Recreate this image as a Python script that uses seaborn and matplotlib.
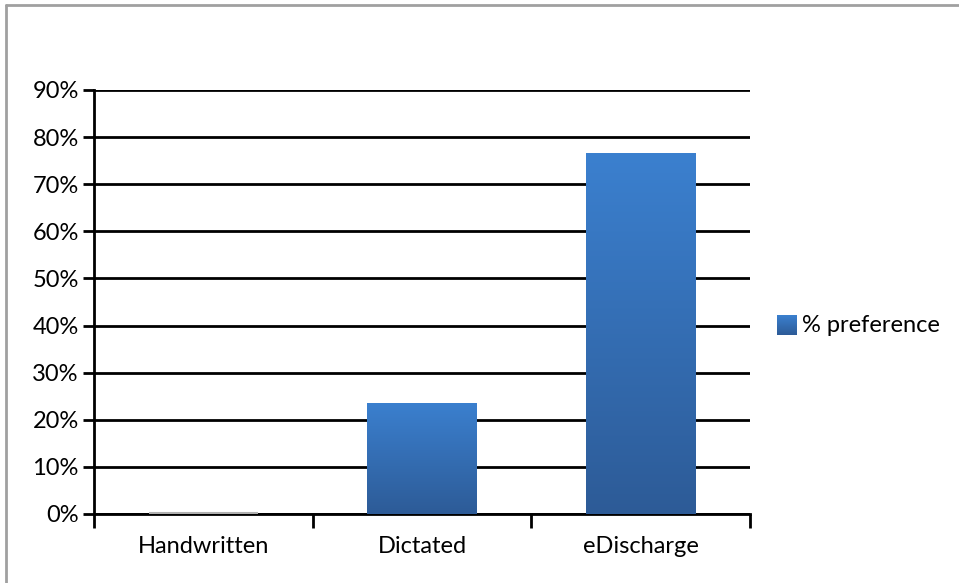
import numpy as np
import pandas as pd
import matplotlib
matplotlib.use("Agg")
import matplotlib.pyplot as plt
import seaborn as sns
from matplotlib.colors import LinearSegmentedColormap
from matplotlib.lines import Line2D

categories = ["Handwritten", "Dictated", "eDischarge"]
values = [0.0, 23.6, 76.6]
series_name = "% preference"
yticks = [0, 10, 20, 30, 40, 50, 60, 70, 80, 90]

sns.set_theme(style="white")
plt.rcParams["font.family"] = ["Lato", "DejaVu Sans"]

W, H = 959, 583
FS = 17
fig = plt.figure(figsize=(W / 100, H / 100), dpi=100)
ax = fig.add_axes([94 / W, 1 - 514 / H, (750 - 94) / W, (514 - 90) / H])

df = pd.DataFrame({"category": categories, "value": values})
sns.barplot(data=df, x="category", y="value", ax=ax, width=0.5,
            color="#3a7fcd", saturation=1)

ax.set_ylim(0, 90)
ax.set_xlim(-0.5, 2.5)
ax.set_yticks(yticks)
ax.set_yticklabels([f"{t}%" for t in yticks])
ax.set_xlabel("")
ax.set_ylabel("")
ax.yaxis.grid(True, color="black", linewidth=2)
ax.set_axisbelow(True)
for s in ["top", "right"]:
    ax.spines[s].set_visible(False)
for s in ["left", "bottom"]:
    ax.spines[s].set_color("black")
    ax.spines[s].set_linewidth(2)

ax.tick_params(axis="y", which="major", left=True, length=8, width=2,
               color="black", labelsize=FS, pad=3, labelcolor="black")
ax.set_xticks([0, 1, 2])
ax.set_xticklabels(categories)
ax.tick_params(axis="x", which="major", bottom=False, labelsize=FS,
               pad=10, labelcolor="black")
ax.set_xticks([-0.5, 0.5, 1.5, 2.5], minor=True)
ax.tick_params(axis="x", which="minor", bottom=True, length=10, width=2,
               color="black")

cmap = LinearSegmentedColormap.from_list("g", ["#2d5b97", "#3b80cf"])
grad = np.linspace(0, 1, 256).reshape(-1, 1)
for p, v in zip(ax.patches, values):
    x0, w = p.get_x(), p.get_width()
    if v <= 0:
        p.set_visible(False)
        ax.plot([x0, x0 + w], [0.15, 0.15], color="#b0b0b0", linewidth=1.5,
                zorder=5, solid_capstyle="butt")
        continue
    p.set_facecolor("none")
    p.set_edgecolor("none")
    im = ax.imshow(grad, cmap=cmap, origin="lower", aspect="auto",
                   extent=[x0, x0 + w, 0, v], zorder=3)
    im.set_clip_path(p)
ax.set_xlim(-0.5, 2.5)
ax.set_ylim(0, 90)

# legend swatch (gradient) and text
lax = fig.add_axes([777 / W, 1 - 335 / H, 20 / W, 20 / H])
lax.imshow(grad, cmap=cmap, origin="lower", aspect="auto")
lax.axis("off")
fig.text(802 / W, 1 - 326 / H, series_name, fontsize=FS, va="center",
         ha="left", color="black")

# partial chart-area border (top and left)
fig.add_artist(Line2D([6 / W, 1], [1 - 5 / H, 1 - 5 / H], color="#a0a0a0",
                      linewidth=2, transform=fig.transFigure))
fig.add_artist(Line2D([6 / W, 6 / W], [0, 1 - 5 / H], color="#a0a0a0",
                      linewidth=2, transform=fig.transFigure))

fig.savefig("out.png", dpi=100, facecolor="white")
